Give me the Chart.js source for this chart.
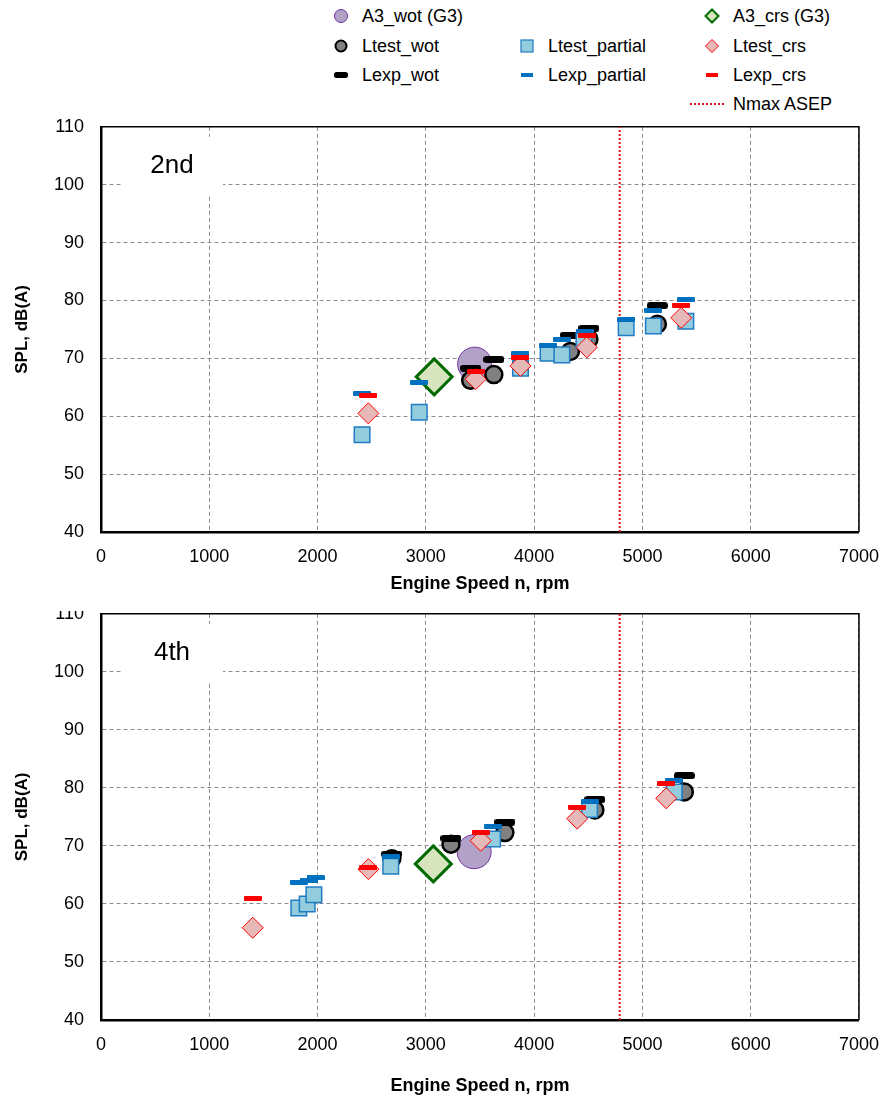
<!DOCTYPE html>
<html>
<head>
<meta charset="utf-8">
<script src="https://cdn.jsdelivr.net/npm/chart.js@4.4.1/dist/chart.umd.min.js"></script>
<style>
  body { margin: 0; width: 893px; height: 1101px; position: relative; background: #fff; overflow: hidden;
         font-family: "Liberation Sans", Arial, sans-serif; }
  .lg { position: absolute; display: flex; align-items: center; height: 20px; font-size: 18px; color: #000; white-space: nowrap; }
  .lg svg { margin-right: 11px; }
  #c1 { position: absolute; left: 0; top: 99px; }
  #wrap2 { position: absolute; left: 0; top: 611px; width: 893px; height: 490px; overflow: hidden; }
  #c2 { position: absolute; left: 0; top: -25px; }
</style>
</head>
<body>
<div id="legend"></div>
<canvas id="c1" width="893" height="501"></canvas>
<div id="wrap2"><canvas id="c2" width="893" height="515"></canvas></div>
<script>
// 2nd gear: [rpm, dB(A)]
const g2A3Wot = [[3451, 69.0]];
const g2A3Crs = [[3077, 66.8]];
const g2LtestWot = [[3414, 66.2], [3628, 67.2], [4335, 71.2], [4506, 73.3], [5138, 75.9]];
const g2LexpWot = [[3414, 68.3], [3628, 69.8], [4335, 74.0], [4506, 75.2], [5138, 79.1]];
const g2LtestPartial = [[2411, 56.8], [2939, 60.7], [3874, 68.3], [4129, 70.9], [4256, 70.6], [4460, 73.1], [4850, 75.3], [5101, 75.6], [5401, 76.4]];
const g2LexpPartial = [[2411, 63.9], [2939, 65.9], [3874, 70.8], [4129, 72.3], [4256, 73.3], [4467, 74.7], [4850, 76.7], [5101, 78.3], [5401, 80.1]];
const g2LtestCrs = [[2469, 60.5], [3460, 66.4], [3874, 68.7], [4486, 71.9], [5358, 77.0]];
const g2LexpCrs = [[2469, 63.6], [3460, 67.7], [3874, 70.1], [4486, 73.9], [5358, 79.2]];

// 4th gear
const g4A3Wot = [[3446, 69.0]];
const g4A3Crs = [[3069, 66.9]];
const g4LtestWot = [[2686, 67.8], [3232, 70.3], [3730, 72.3], [4561, 76.2], [5387, 79.3]];
const g4LexpWot = [[2686, 68.6], [3232, 71.3], [3730, 74.1], [4561, 78.0], [5387, 82.1]];
const g4LtestPartial = [[1827, 59.3], [1904, 60.0], [1966, 61.6], [2676, 66.5], [3617, 71.2], [4512, 76.3], [5294, 79.3]];
const g4LexpPartial = [[1827, 63.7], [1919, 64.1], [1981, 64.5], [2676, 68.1], [3617, 73.3], [4512, 77.6], [5294, 81.2]];
const g4LtestCrs = [[1401, 55.9], [2470, 66.0], [3507, 70.9], [4398, 74.7], [5220, 78.2]];
const g4LexpCrs = [[1401, 61.0], [2470, 66.2], [3507, 72.3], [4398, 76.7], [5220, 80.7]];

const nmaxAsep = 4790;
const xTicks = [0, 7000, 1000];   // min, max, step
const yTicks = [40, 110, 10];

const FONT = '"Liberation Sans", Arial, sans-serif';

function barImage(w, h, color, r) {
  const c = document.createElement("canvas");
  c.width = w; c.height = h;
  const ctx = c.getContext("2d");
  ctx.fillStyle = color;
  ctx.beginPath();
  ctx.roundRect(0, 0, w, h, r);
  ctx.fill();
  return c;
}
const blackBar = barImage(21, 7, "#000", 3);
const blueBar = barImage(18, 5, "#0070C0", 1);
const redBar = barImage(18, 5, "#FF0000", 1);

function pts(arr) {
  return arr.map(p => ({ x: p[0], y: p[1] }));
}

const framePlugin = {
  id: "frame",
  beforeDatasetsDraw(chart, args, opts) {
    const { ctx, chartArea: a } = chart;
    ctx.save();
    ctx.fillStyle = "#fff";
    ctx.fillRect(a.left + 20, a.top + 10, 102, 59);
    ctx.fillStyle = "#000";
    ctx.font = "26px " + FONT;
    ctx.textAlign = "center";
    ctx.textBaseline = "middle";
    ctx.fillText(opts.label, a.left + 71, a.top + 39);
    ctx.strokeStyle = "#000";
    ctx.lineWidth = 1.5;
    ctx.beginPath();
    ctx.moveTo(a.left, a.top);
    ctx.lineTo(a.right, a.top);
    ctx.lineTo(a.right, a.bottom);
    ctx.stroke();
    ctx.restore();
  }
};

function makeChart(id, label, s, axisHeight, titlePad) {
  const datasets = [
    { label: "Nmax ASEP", data: [{ x: nmaxAsep, y: yTicks[0] }, { x: nmaxAsep, y: yTicks[1] }], showLine: true,
      borderColor: "#E01010", borderWidth: 2, borderDash: [2, 2], pointRadius: 0, order: 10 },
    { label: "A3_wot (G3)", data: pts(s.a3Wot), pointStyle: "circle", pointRadius: 17,
      backgroundColor: "#B3A2C7", borderColor: "#7030A0", pointBorderWidth: 1, order: 9 },
    { label: "A3_crs (G3)", data: pts(s.a3Crs), pointStyle: "rectRot", pointRadius: 18,
      backgroundColor: "#D7E4BD", borderColor: "#006A00", pointBorderWidth: 3, order: 8 },
    { label: "Ltest_wot", data: pts(s.ltestWot), pointStyle: "circle", pointRadius: 8.5,
      backgroundColor: "#808080", borderColor: "#000", pointBorderWidth: 2.5, order: 7 },
    { label: "Lexp_wot", data: pts(s.lexpWot), pointStyle: blackBar, order: 6 },
    { label: "Ltest_partial", data: pts(s.ltestPartial), pointStyle: "rect", pointRadius: 11,
      backgroundColor: "#93CDDD", borderColor: "#1F7CC4", pointBorderWidth: 1.5, order: 5 },
    { label: "Lexp_partial", data: pts(s.lexpPartial), pointStyle: blueBar, order: 4 },
    { label: "Ltest_crs", data: pts(s.ltestCrs), pointStyle: "rectRot", pointRadius: 10.5,
      backgroundColor: "#E6B9B8", borderColor: "#FF0000", pointBorderWidth: 1, order: 3 },
    { label: "Lexp_crs", data: pts(s.lexpCrs), pointStyle: redBar, order: 2 }
  ];

  return new Chart(document.getElementById(id), {
    type: "scatter",
    data: { datasets: datasets },
    options: {
      responsive: false,
      animation: false,
      layout: { padding: { top: 0, right: 32, left: 0, bottom: 0 } },
      plugins: {
        legend: { display: false },
        tooltip: { enabled: false },
        frame: { label: label }
      },
      scales: {
        x: {
          type: "linear",
          min: xTicks[0], max: xTicks[1],
          ticks: { stepSize: xTicks[2], padding: 14, color: "#000", font: { family: FONT, size: 18 },
                   callback: v => String(v) },
          grid: { color: "#8c8c8c", lineWidth: 1, drawTicks: false },
          border: { display: true, color: "#000", width: 2.5, dash: [4, 3] },
          title: { display: true, text: "Engine Speed n, rpm", color: "#000",
                   font: { family: FONT, size: 18, weight: "bold" }, padding: { top: 0, bottom: titlePad } },
          afterFit(scale) { scale.height = axisHeight; }
        },
        y: {
          type: "linear",
          min: yTicks[0], max: yTicks[1],
          ticks: { stepSize: yTicks[2], padding: 17, color: "#000", font: { family: FONT, size: 18 } },
          grid: { color: "#8c8c8c", lineWidth: 1, drawTicks: false },
          border: { display: true, color: "#000", width: 2.5, dash: [4, 3] },
          title: { display: true, text: "SPL, dB(A)", color: "#000",
                   font: { family: FONT, size: 17, weight: "bold" }, padding: { top: 12, bottom: 0 } },
          afterFit(scale) { scale.width = 101; }
        }
      }
    },
    plugins: [framePlugin]
  });
}

makeChart("c1", "2nd", {
  a3Wot: g2A3Wot, a3Crs: g2A3Crs, ltestWot: g2LtestWot, lexpWot: g2LexpWot,
  ltestPartial: g2LtestPartial, lexpPartial: g2LexpPartial, ltestCrs: g2LtestCrs, lexpCrs: g2LexpCrs
}, 68, 5);

makeChart("c2", "4th", {
  a3Wot: g4A3Wot, a3Crs: g4A3Crs, ltestWot: g4LtestWot, lexpWot: g4LexpWot,
  ltestPartial: g4LtestPartial, lexpPartial: g4LexpPartial, ltestCrs: g4LtestCrs, lexpCrs: g4LexpCrs
}, 81, 4);

// legend, laid out in three columns like the original
const legendItems = [
  { col: 0, row: 0, text: "A3_wot (G3)", svg: '<circle cx="10" cy="10" r="6.5" fill="#B3A2C7" stroke="#7030A0" stroke-width="1"/>' },
  { col: 2, row: 0, text: "A3_crs (G3)", svg: '<path d="M10 3.5 L16.5 10 L10 16.5 L3.5 10 Z" fill="#D7E4BD" stroke="#006A00" stroke-width="2"/>' },
  { col: 0, row: 1, text: "Ltest_wot", svg: '<circle cx="10" cy="10" r="5.5" fill="#808080" stroke="#000" stroke-width="2"/>' },
  { col: 1, row: 1, text: "Ltest_partial", svg: '<rect x="4" y="4" width="12" height="12" fill="#93CDDD" stroke="#1F7CC4" stroke-width="1.2"/>' },
  { col: 2, row: 1, text: "Ltest_crs", svg: '<path d="M10 3.5 L16.5 10 L10 16.5 L3.5 10 Z" fill="#E6B9B8" stroke="#FF0000" stroke-width="1"/>' },
  { col: 0, row: 2, text: "Lexp_wot", svg: '<rect x="3" y="7" width="14" height="6" rx="2.5" fill="#000"/>' },
  { col: 1, row: 2, text: "Lexp_partial", svg: '<rect x="4" y="8" width="12" height="4" fill="#0070C0"/>' },
  { col: 2, row: 2, text: "Lexp_crs", svg: '<rect x="4" y="8" width="12" height="4" fill="#FF0000"/>' }
];
const colX = [341, 527, 712];
const rowY = [16, 46, 75, 104];
const legend = document.getElementById("legend");
legendItems.forEach(it => {
  const d = document.createElement("div");
  d.className = "lg";
  d.style.left = (colX[it.col] - 10) + "px";
  d.style.top = (rowY[it.row] - 10) + "px";
  d.innerHTML = '<svg width="20" height="20">' + it.svg + "</svg><span>" + it.text + "</span>";
  legend.appendChild(d);
});
const nm = document.createElement("div");
nm.className = "lg";
nm.style.left = "690px";
nm.style.top = (rowY[3] - 10) + "px";
nm.innerHTML = '<svg width="36" height="20" style="margin-right:7px"><line x1="0" y1="10" x2="36" y2="10" stroke="#E01010" stroke-width="2" stroke-dasharray="2,2"/></svg><span>Nmax ASEP</span>';
legend.appendChild(nm);
</script>
</body>
</html>
